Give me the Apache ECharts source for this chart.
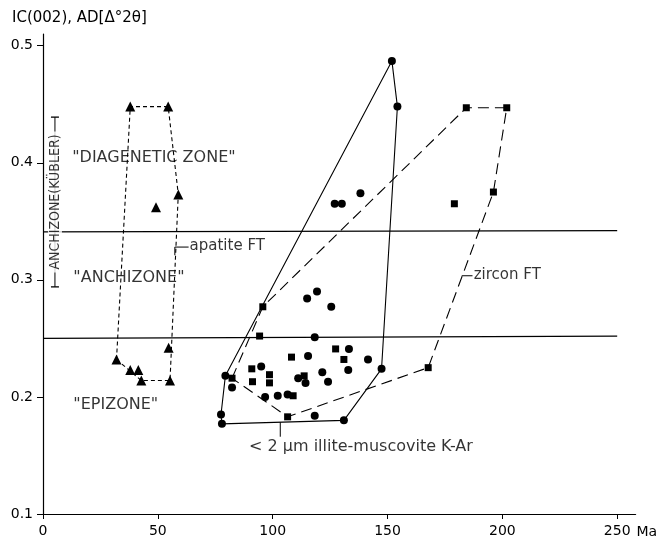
<!DOCTYPE html>
<html><head><meta charset="utf-8">
<script src="https://cdn.jsdelivr.net/npm/echarts@6/dist/echarts.min.js"></script>
<style>html,body{margin:0;padding:0;background:#fff}#c{width:660px;height:543px}</style>
</head><body><div id="c"></div>
<script>
// ---- data (age in Ma, IC / AD in Δ°2θ) ----
const xTickValues = [0, 50, 100, 150, 200, 250];
const yTickValues = [0.1, 0.2, 0.3, 0.4, 0.5];
const yAxisTitle = 'IC(002), AD[Δ°2θ]';
const xUnit = 'Ma';

// apatite fission-track ages (triangles)
const apatitePoints = [[32.0,0.232],[38.0,0.223],[41.5,0.223],[42.8,0.214],[55.3,0.214],[54.7,0.242],[49.2,0.362],[58.9,0.373],[38.0,0.448],[54.5,0.448]];
const apatiteHull = [[32.0,0.232],[38.0,0.448],[54.5,0.448],[58.9,0.373],[55.3,0.214],[42.8,0.214],[32.0,0.232]];

// zircon fission-track ages (squares)
const zirconPoints = [[82.3,0.216],[95.7,0.277],[94.3,0.252],[90.9,0.224],[91.2,0.213],[98.6,0.219],[98.6,0.212],[106.5,0.183],[108.2,0.234],[108.9,0.201],[113.7,0.218],[127.4,0.241],[131.0,0.232],[167.7,0.225],[179.1,0.365],[184.3,0.447],[196.1,0.375],[201.9,0.447]];
const zirconHull = [[82.3,0.216],[95.7,0.277],[184.3,0.447],[201.9,0.447],[196.1,0.375],[167.7,0.225],[106.5,0.183],[82.3,0.216]];

// <2 µm illite-muscovite K-Ar ages (circles)
const kArPoints = [[77.9,0.177],[77.5,0.185],[79.4,0.218],[82.3,0.208],[95.0,0.226],[96.7,0.200],[102.2,0.201],[106.5,0.202],[111.1,0.216],[114.3,0.212],[115.4,0.235],[118.3,0.184],[118.3,0.251],[115.0,0.284],[119.3,0.290],[125.5,0.277],[121.6,0.221],[124.1,0.213],[132.9,0.223],[133.2,0.241],[141.5,0.232],[131.0,0.180],[147.4,0.224],[151.9,0.487],[154.3,0.448],[127.0,0.365],[130.1,0.365],[138.2,0.374]];
const kArHull = [[77.9,0.177],[77.5,0.185],[79.4,0.218],[151.9,0.487],[154.3,0.448],[147.4,0.224],[131.0,0.180],[77.9,0.177]];

// Kübler zone boundaries
const diagAnchiBoundary = [[0,0.341],[250,0.342]];
const anchiEpiBoundary = [[0,0.250],[250,0.252]];

// leader lines of the labels
const apatiteLeader = [[57.4,0.321],[57.4,0.328],[63.4,0.328]];
const zirconLeader = [[182.3,0.3035],[187.0,0.3035]];
const kArLeader = [[103.3,0.1784],[103.3,0.166]];
const kublerBracket = [[5.2,0.294],[5.2,0.439]];

const FONT = 'DejaVu Sans';
const FONT_NARROW = '"DejaVu Sans Condensed", "Liberation Sans Narrow", "DejaVu Sans"';
const INK = '#000';

function textItem(x, y, text, extra) {
  return {
    value: [x, y],
    label: Object.assign({show: true, formatter: text, position: 'right', distance: 0,
      color: INK, fontFamily: FONT, fontSize: 16}, extra || {})
  };
}

const chart = echarts.init(document.getElementById('c'), null, {renderer: 'canvas'});

function lineSeries(name, data, type, width) {
  return {name, type: 'line', data, symbol: 'none', silent: true, z: 2,
    lineStyle: {color: INK, width: width || 1.1, type: type || 'solid'}, animation: false};
}

chart.setOption({
  animation: false,
  backgroundColor: '#fff',
  title: {text: yAxisTitle, left: 7, top: 6,
    textStyle: {fontFamily: FONT, fontSize: 15, fontWeight: 'normal', color: INK}},
  grid: {left: 43, right: 20, top: 34, bottom: 29, containLabel: false},
  xAxis: {type: 'value', min: 0, max: 258, interval: 50,
    name: xUnit, nameLocation: 'end', nameGap: -4,
    nameTextStyle: {fontFamily: FONT, fontSize: 14, color: INK, align: 'left', verticalAlign: 'top', padding: [11, 0, 0, 0]},
    axisLine: {lineStyle: {color: INK, width: 1.2}},
    axisTick: {show: true, length: 5, inside: false, customValues: xTickValues, lineStyle: {color: INK}},
    axisLabel: {customValues: xTickValues, margin: 10, fontFamily: FONT, fontSize: 14, color: INK},
    splitLine: {show: false}},
  yAxis: {type: 'value', min: 0.1, max: 0.51, interval: 0.1,
    axisLine: {show: true, lineStyle: {color: INK, width: 1.2}},
    axisTick: {show: true, length: 6, inside: false, customValues: yTickValues, lineStyle: {color: INK}},
    axisLabel: {customValues: yTickValues, margin: 10, fontFamily: FONT, fontSize: 14, color: INK,
      formatter: v => v.toFixed(1)},
    splitLine: {show: false}},
  series: [
    lineSeries('diag-anchi', diagAnchiBoundary, 'solid', 1.2),
    lineSeries('anchi-epi', anchiEpiBoundary, 'solid', 1.2),
    lineSeries('apatite FT hull', apatiteHull, [4, 3], 1.1),
    lineSeries('zircon FT hull', zirconHull, [11, 6], 1.1),
    lineSeries('K-Ar hull', kArHull, 'solid', 1.1),
    lineSeries('apatite leader', apatiteLeader, 'solid', 1),
    lineSeries('zircon leader', zirconLeader, 'solid', 1),
    lineSeries('K-Ar leader', kArLeader, 'solid', 1),
    {name: 'Kübler bracket', type: 'line', data: kublerBracket, silent: true, z: 1,
      symbol: 'rect', symbolSize: [8, 1.3], showSymbol: true, itemStyle: {color: INK},
      lineStyle: {color: INK, width: 1}, animation: false},
    {name: 'apatite FT', type: 'scatter', data: apatitePoints, symbol: 'triangle', symbolSize: 10,
      itemStyle: {color: INK, opacity: 1}, z: 5},
    {name: 'zircon FT', type: 'scatter', data: zirconPoints, symbol: 'rect', symbolSize: 7,
      itemStyle: {color: INK, opacity: 1}, z: 5},
    {name: 'K-Ar', type: 'scatter', data: kArPoints, symbol: 'circle', symbolSize: 8,
      itemStyle: {color: INK, opacity: 1}, z: 5},
    {name: 'labels', type: 'scatter', symbolSize: 1, silent: true, z: 6,
      itemStyle: {color: 'rgba(0,0,0,0)'},
      data: [
        textItem(12.5, 0.4043, '"DIAGENETIC ZONE"'),
        textItem(13.0, 0.3017, '"ANCHIZONE"'),
        textItem(13.0, 0.193, '"EPIZONE"'),
        textItem(63.6, 0.3285, 'apatite FT', {fontSize: 15}),
        textItem(187.3, 0.3043, 'zircon FT', {fontSize: 15}),
        textItem(89.5, 0.1575, '< 2 μm illite-muscovite K-Ar'),
        textItem(5.2, 0.3665, 'ANCHIZONE(KÜBLER)', {position: 'inside', rotate: 90, fontSize: 14,
          fontFamily: FONT_NARROW,
          align: 'center', verticalAlign: 'middle', backgroundColor: '#fff', padding: [0, 3]})
      ]}
  ]
});
</script>
</body></html>
